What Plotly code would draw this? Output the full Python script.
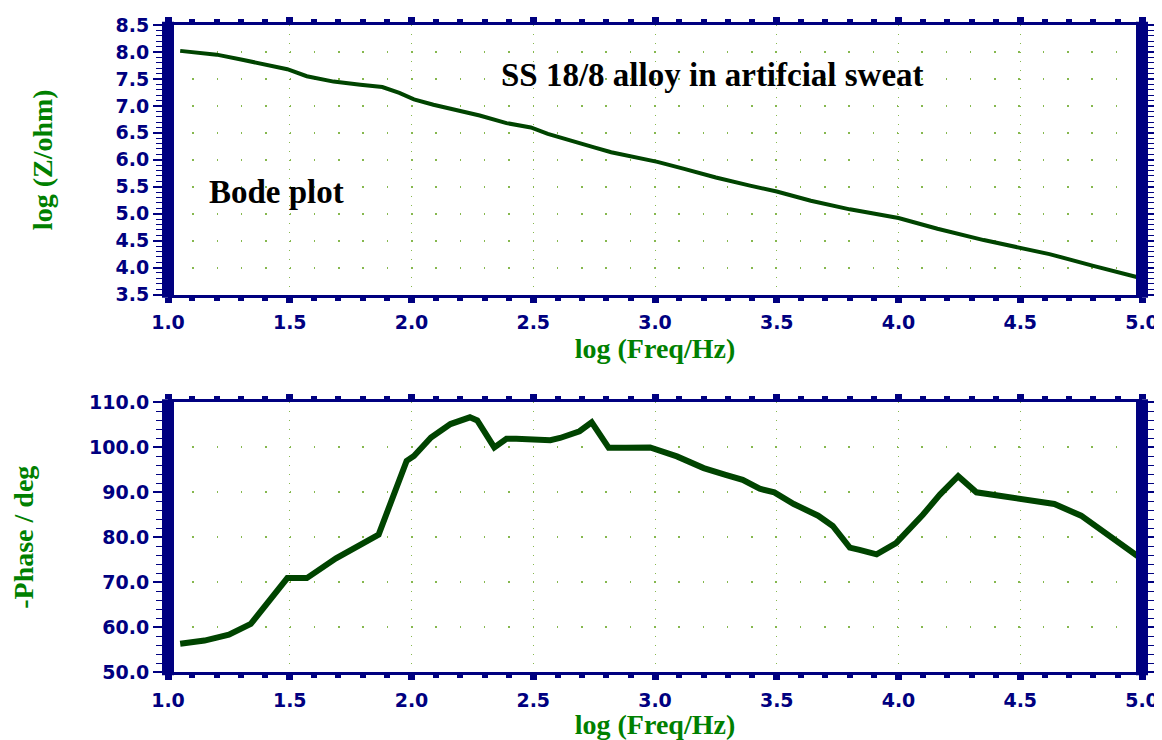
import plotly.graph_objects as go
from plotly.subplots import make_subplots

# ---- data ----
logf_mag = [1.05, 1.20, 1.30, 1.38, 1.49, 1.57, 1.68, 1.79, 1.88, 1.95, 2.01, 2.09, 2.20, 2.28,
            2.39, 2.49, 2.56, 2.65, 2.75, 2.82, 2.91, 3.01, 3.12, 3.25, 3.39, 3.50, 3.64, 3.80,
            4.00, 4.16, 4.35, 4.50, 4.62, 4.80, 4.99]
logz = [8.02, 7.95, 7.86, 7.78, 7.68, 7.55, 7.45, 7.39, 7.35, 7.24, 7.12, 7.02, 6.91, 6.82,
        6.68, 6.60, 6.48, 6.37, 6.23, 6.14, 6.05, 5.96, 5.83, 5.67, 5.52, 5.41, 5.24, 5.08,
        4.92, 4.72, 4.51, 4.37, 4.25, 4.03, 3.81]

logf_ph = [1.05, 1.15, 1.25, 1.30, 1.34, 1.49, 1.57, 1.69, 1.83, 1.865, 1.98, 2.01, 2.08, 2.16,
           2.24, 2.27, 2.34, 2.39, 2.43, 2.57, 2.61, 2.69, 2.74, 2.81, 2.88, 2.98, 3.09, 3.20,
           3.29, 3.36, 3.43, 3.49, 3.57, 3.67, 3.73, 3.80, 3.84, 3.91, 3.99, 4.10, 4.17, 4.245,
           4.32, 4.39, 4.50, 4.58, 4.64, 4.75, 4.88, 4.99]
phase = [56.3, 57.0, 58.3, 59.6, 60.7, 70.9, 70.9, 75.3, 79.8, 80.6, 97.0, 98.1, 102.2, 105.2,
         106.7, 106.0, 100.0, 101.9, 101.9, 101.6, 102.1, 103.6, 105.6, 99.9, 99.9, 100.0, 98.0, 95.4,
         93.9, 92.8, 90.8, 90.0, 87.4, 84.8, 82.5, 77.7, 77.2, 76.2, 78.7, 85.0, 89.5, 93.6,
         90.0, 89.5, 88.7, 88.0, 87.4, 84.8, 79.9, 75.5]

x_ticks = [1.0, 1.5, 2.0, 2.5, 3.0, 3.5, 4.0, 4.5, 5.0]
y1_ticks = [3.5, 4.0, 4.5, 5.0, 5.5, 6.0, 6.5, 7.0, 7.5, 8.0, 8.5]
y2_ticks = [50, 60, 70, 80, 90, 100, 110]

NAVY = "#000080"
GREEN_T = "#008000"
LINE = "#004400"
GRID = "#86b84e"

fig = make_subplots(rows=2, cols=1, vertical_spacing=0.1669)
fig.add_trace(go.Scatter(x=logf_mag, y=logz, mode="lines",
                         line=dict(color=LINE, width=4), showlegend=False), row=1, col=1)
fig.add_trace(go.Scatter(x=logf_ph, y=phase, mode="lines",
                         line=dict(color=LINE, width=6), showlegend=False), row=2, col=1)

tickfont = dict(family="DejaVu Sans", size=19, color=NAVY, weight="bold")
titlefont = dict(family="Liberation Serif", size=28, color=GREEN_T, weight="bold")

xcommon = dict(range=[1.0, 5.0], tickvals=x_ticks, tickformat=".1f", tickfont=tickfont,
               showline=True, linewidth=3, linecolor=NAVY, mirror="allticks", automargin=False,
               ticks="outside", ticklen=5, tickwidth=7, tickcolor=NAVY,
               minor=dict(dtick=0.1, ticks="outside", ticklen=3, tickwidth=6, tickcolor=NAVY, showgrid=False),
               showgrid=True, gridcolor=GRID, gridwidth=1.2, griddash="1px,8px",
               zeroline=False, ticklabelstandoff=4,
               title=dict(text="log (Freq/Hz)", font=titlefont, standoff=4))
fig.update_xaxes(**xcommon, row=1, col=1)
fig.update_xaxes(**xcommon, row=2, col=1)

ycommon = dict(tickformat=".1f", tickfont=tickfont, showline=False, mirror="allticks", automargin=False,
               ticks="outside", ticklen=14, tickwidth=1.5, tickcolor=NAVY,
               showgrid=True, gridcolor=GRID, gridwidth=1.5, griddash="1.5px,22.8px",
               zeroline=False)
fig.update_yaxes(**ycommon, range=[3.5, 8.5], tickvals=y1_ticks,
                 minor=dict(dtick=0.1, ticks="outside", ticklen=11, tickwidth=1.2, tickcolor=NAVY, showgrid=False),
                 title=dict(text="log (Z/ohm)", font=titlefont, standoff=54), row=1, col=1)
fig.update_yaxes(**ycommon, range=[50, 110], tickvals=y2_ticks,
                 minor=dict(dtick=2, ticks="outside", ticklen=11, tickwidth=1.2, tickcolor=NAVY, showgrid=False),
                 title=dict(text="-Phase / deg", font=titlefont, standoff=48), row=2, col=1)

# thick vertical frame bars
for xr, yr in (("x domain", "y domain"), ("x2 domain", "y2 domain")):
    for xpos in (0, 1):
        fig.add_shape(type="line", xref=xr, yref=yr, x0=xpos, x1=xpos, y0=-0.012, y1=1.012,
                      line=dict(color=NAVY, width=12), layer="above")

fig.add_annotation(text="SS 18/8 alloy in artifcial sweat", xref="x domain", yref="y domain",
                   x=0.559, y=0.887, showarrow=False,
                   font=dict(family="Liberation Serif", size=33, color="black", weight="bold"))
fig.add_annotation(text="Bode plot", xref="x domain", yref="y domain",
                   x=0.04, y=0.38, xanchor="left", showarrow=False,
                   font=dict(family="Liberation Serif", size=33, color="black", weight="bold"))

# page body adds an 8px margin, so the figure is 8px smaller than the window
fig.update_layout(width=1154, height=732, margin=dict(l=160, r=20, t=17, b=68),
                  paper_bgcolor="white", plot_bgcolor="white")
fig.write_html("out.html")
